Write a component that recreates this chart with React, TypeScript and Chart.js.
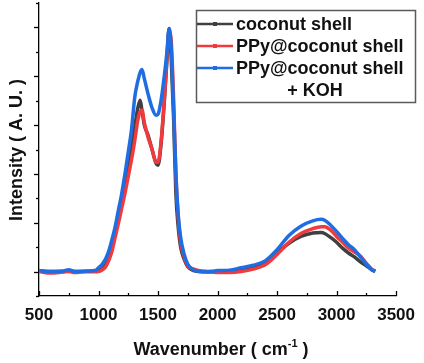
import React, { useEffect, useRef } from "react";
import { Chart, registerables } from "chart.js";

Chart.register(...registerables);

const wavenumbers = [
  500, 600, 700, 750, 800, 900, 980, 1000, 1030, 1060, 1090, 1112, 1140, 1168, 1195, 1222, 1250, 1277, 1305, 1330,
  1350, 1365, 1385, 1415, 1450, 1483, 1500, 1525, 1552, 1574, 1593, 1610, 1630, 1650, 1670, 1690, 1720, 1750, 1800,
  1850, 1900, 1950, 2000, 2100, 2200, 2300, 2400, 2500, 2600, 2700, 2800, 2870, 2900, 2950, 3000, 3050, 3100, 3150,
  3200, 3250, 3300, 3325,
];

const coconutShell = [
  0.01, 0.0, 0.0, 0.02, 0.0, 0.0, 0.0, 0.01, 0.05, 0.14, 0.3, 0.51, 0.8, 1.12, 1.45, 1.82, 2.15, 2.49, 2.97, 3.35,
  3.51, 3.3, 3.0, 2.8, 2.5, 2.22, 2.18, 2.6, 3.45, 4.3, 4.98, 4.4, 3.2, 1.6, 0.9, 0.5, 0.25, 0.1, 0.02,
  0.0, 0.0, 0.0, 0.0, 0.0, 0.04, 0.09, 0.18, 0.38, 0.58, 0.72, 0.79, 0.8, 0.78, 0.7, 0.6, 0.48, 0.38, 0.3,
  0.2, 0.12, 0.03, 0.01,
];

const ppyCoconutShell = [
  0.0, -0.03, -0.01, 0.0, -0.02, 0.0, 0.0, 0.0, 0.03, 0.1, 0.25, 0.41, 0.7, 1.0, 1.3, 1.6, 1.95, 2.29, 2.69, 3.1,
  3.28, 3.31, 3.05, 2.76, 2.5, 2.24, 2.24, 2.65, 3.5, 4.35, 4.9, 4.75, 3.6, 2.0, 1.1, 0.6, 0.3, 0.12, 0.05,
  0.02, 0.0, -0.01, -0.02, -0.02, 0.0, 0.05, 0.14, 0.35, 0.6, 0.78, 0.88, 0.92, 0.92, 0.85, 0.72, 0.6, 0.48, 0.4,
  0.32, 0.17, 0.04, 0.02,
];

const ppyCoconutShellKOH = [
  0.02, 0.0, 0.01, 0.04, 0.0, 0.01, 0.03, 0.08, 0.15, 0.26, 0.45, 0.65, 0.92, 1.27, 1.6, 2.0, 2.45, 2.9, 3.58, 3.9,
  4.08, 4.14, 3.95, 3.65, 3.35, 3.2, 3.22, 3.5, 3.99, 4.47, 4.98, 4.6, 3.4, 2.0, 1.15, 0.7, 0.35, 0.15, 0.03,
  0.0, -0.01, 0.0, 0.02, 0.03, 0.08, 0.13, 0.22, 0.45, 0.74, 0.93, 1.04, 1.07, 1.05, 0.95, 0.82, 0.68, 0.55, 0.45,
  0.3, 0.15, 0.03, 0.0,
];

const xTicks = [500, 1000, 1500, 2000, 2500, 3000, 3500];
const legendLabels = ["coconut shell", "PPy@coconut shell", "PPy@coconut shell", "+ KOH"];
const xTitle = "Wavenumber ( cm";
const yTitle = "Intensity ( A. U. )";

const COLORS = ["#404040", "#f03a3d", "#1f6de3"];
const FONT = "'Liberation Sans', Arial, sans-serif";

const decorPlugin = {
  id: "decor",
  afterDraw(chart: any) {
    const ctx = chart.ctx;
    const xs = chart.scales.x;
    const ys = chart.scales.y;
    const area = chart.chartArea;
    ctx.save();
    ctx.strokeStyle = "#000";
    ctx.lineWidth = 1.3;
    for (let v = -0.5; v <= 5.51; v += 0.5) {
      const major = Math.abs(v - Math.round(v)) < 1e-6;
      const py = Math.round(ys.getPixelForValue(v)) + 0.5;
      ctx.beginPath();
      ctx.moveTo(area.left, py);
      ctx.lineTo(area.left - (major ? 5 : 3), py);
      ctx.stroke();
    }
    for (let v = 500; v <= 3500; v += 250) {
      const major = v % 500 === 0;
      const px = Math.round(xs.getPixelForValue(v)) + 0.5;
      ctx.beginPath();
      ctx.moveTo(px, area.bottom);
      ctx.lineTo(px, area.bottom - (major ? 5 : 3));
      ctx.stroke();
    }
    // x title with superscript
    ctx.fillStyle = "#111";
    ctx.textBaseline = "alphabetic";
    ctx.textAlign = "left";
    ctx.font = `bold 18px ${FONT}`;
    const w1 = ctx.measureText(xTitle).width;
    ctx.font = `bold 11px ${FONT}`;
    const w2 = ctx.measureText("-1").width;
    ctx.font = `bold 18px ${FONT}`;
    const w3 = ctx.measureText(" )").width;
    const total = w1 + w2 + w3;
    let sx = 221 - total / 2;
    const by = 355;
    ctx.fillText(xTitle, sx, by);
    sx += w1;
    ctx.font = `bold 11px ${FONT}`;
    ctx.fillText("-1", sx, by - 8);
    sx += w2;
    ctx.font = `bold 18px ${FONT}`;
    ctx.fillText(" )", sx, by);
    // y title
    ctx.save();
    ctx.translate(17.5, 150);
    ctx.rotate(-Math.PI / 2);
    ctx.textAlign = "center";
    ctx.textBaseline = "middle";
    ctx.font = `bold 18px ${FONT}`;
    ctx.fillText(yTitle, 0, 0);
    ctx.restore();
    // legend
    ctx.strokeStyle = "#5a5a5a";
    ctx.lineWidth = 1.5;
    ctx.strokeRect(196.5, 10.5, 219, 92);
    const rows = [24, 46, 68];
    rows.forEach((ry, i) => {
      ctx.strokeStyle = COLORS[i];
      ctx.lineWidth = 2.5;
      ctx.beginPath();
      ctx.moveTo(197, ry);
      ctx.lineTo(233, ry);
      ctx.stroke();
      ctx.fillStyle = COLORS[i];
      ctx.fillRect(213, ry - 2, 4, 4);
      ctx.fillStyle = "#111";
      ctx.font = `bold 18px ${FONT}`;
      ctx.textAlign = "left";
      ctx.textBaseline = "middle";
      ctx.fillText(legendLabels[i], 236, ry + 1);
    });
    ctx.textAlign = "center";
    ctx.fillText(legendLabels[3], 315, 91);
    ctx.restore();
  },
};

export default function App() {
  const ref = useRef<HTMLCanvasElement>(null);
  useEffect(() => {
    if (!ref.current) return;
    const series = [coconutShell, ppyCoconutShell, ppyCoconutShellKOH];
    const chart = new Chart(ref.current, {
      type: "line",
      data: {
        datasets: series.map((s, i) => ({
          label: legendLabels[i],
          data: wavenumbers.map((x, j) => ({ x, y: s[j] })),
          borderColor: COLORS[i],
          backgroundColor: COLORS[i],
          borderWidth: 3.5,
          pointRadius: 0,
          cubicInterpolationMode: "monotone" as const,
          order: 3 - i,
        })),
      },
      options: {
        animation: false,
        responsive: true,
        maintainAspectRatio: false,
        layout: { padding: { left: 0, top: 3, right: 21, bottom: 0 } },
        plugins: { legend: { display: false }, tooltip: { enabled: false } },
        scales: {
          x: {
            type: "linear",
            min: 500,
            max: 3500,
            afterBuildTicks: (scale: any) => {
              scale.ticks = xTicks.map((v) => ({ value: v }));
            },
            afterFit: (scale: any) => {
              scale.height = 67;
            },
            ticks: {
              color: "#111",
              font: { family: FONT, size: 17, weight: "bold" },
              padding: 9,
              maxRotation: 0,
              autoSkip: false,
              callback: (v: any) => String(v),
            },
            grid: { display: false, drawTicks: false },
            border: { display: true, color: "#000", width: 1.3 },
          },
          y: {
            type: "linear",
            min: -0.5,
            max: 5.5,
            afterFit: (scale: any) => {
              scale.width = 39;
            },
            ticks: { display: false },
            grid: { display: false, drawTicks: false },
            border: { display: true, color: "#000", width: 1.3 },
          },
        },
      },
      plugins: [decorPlugin],
    });
    return () => chart.destroy();
  }, []);
  return (
    <div style={{ position: "fixed", left: 0, top: 0, width: 424, height: 363, background: "#fff" }}>
      <canvas ref={ref} />
    </div>
  );
}
